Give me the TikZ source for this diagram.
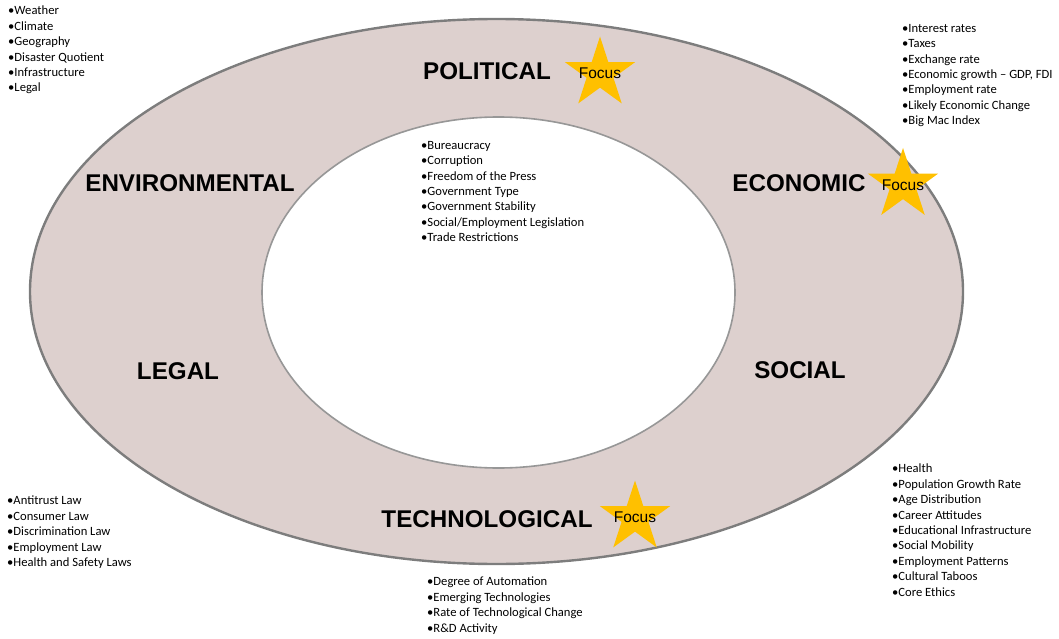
\documentclass[tikz,border=0pt]{standalone}
\usepackage{fontspec}
\setmainfont{Liberation Sans}
\newfontfamily\listfont{Carlito}
\usepackage{xcolor}
\usetikzlibrary{shapes.geometric}

\definecolor{ringfill}{RGB}{221,208,206}
\definecolor{ringedge}{RGB}{125,125,125}
\definecolor{stargold}{RGB}{255,192,0}

\begin{document}
\begin{tikzpicture}[
        x=1pt, y=-1pt,
        factor/.style={font=\fontsize{24.2}{27}\selectfont\bfseries, inner sep=0pt},
        bullets/.style={anchor=north west, align=left, inner sep=0pt,
            font=\listfont\fontsize{12.6}{15.4}\selectfont},
        focusstar/.style={star, star points=5, star point ratio=2.618,
            fill=stargold, minimum size=74pt, inner sep=0pt,
            label={[font=\fontsize{15.5}{17}\selectfont]center:Focus}}
    ]
    \useasboundingbox (0,0) rectangle (1059,639);
    % rings
    \draw[ringedge, line width=2.4pt, fill=ringfill] (496.5,291.5) ellipse [x radius=466.5, y radius=272.5];
    \draw[ringedge!80, line width=1.6pt, fill=white] (498.5,292.5) ellipse [x radius=236.5, y radius=175.5];
    % factors
    \node[factor] (political) at (487,71) {POLITICAL};
    \node[factor] (economic) at (799,183) {ECONOMIC};
    \node[factor] (environmental) at (190,183) {ENVIRONMENTAL};
    \node[factor] (legal) at (178,371) {LEGAL};
    \node[factor] (social) at (800,370) {SOCIAL};
    \node[factor] (technological) at (487,519) {TECHNOLOGICAL};
    % stars
    \node[focusstar] (polfocus) at (600,73.5) {};
    \node[focusstar] (ecofocus) at (903,185) {};
    \node[focusstar] (techfocus) at (635,517.5) {};
    % lists
    \node[bullets] (envlist) at (8,6) {\textbullet Weather\\\textbullet Climate\\\textbullet Geography\\\textbullet Disaster Quotient\\\textbullet Infrastructure\\\textbullet Legal};
    \node[bullets] (ecolist) at (902,24) {\textbullet Interest rates\\\textbullet Taxes\\\textbullet Exchange rate\\\textbullet Economic growth \textendash{} GDP, FDI\\\textbullet Employment rate\\\textbullet Likely Economic Change\\\textbullet Big Mac Index};
    \node[bullets] (pollist) at (421,141) {\textbullet Bureaucracy\\\textbullet Corruption\\\textbullet Freedom of the Press\\\textbullet Government Type\\\textbullet Government Stability\\\textbullet Social/Employment Legislation\\\textbullet Trade Restrictions};
    \node[bullets] (legallist) at (7,496) {\textbullet Antitrust Law\\\textbullet Consumer Law\\\textbullet Discrimination Law\\\textbullet Employment Law\\\textbullet Health and Safety Laws};
    \node[bullets] (soclist) at (892,464) {\textbullet Health\\\textbullet Population Growth Rate\\\textbullet Age Distribution\\\textbullet Career Attitudes\\\textbullet Educational Infrastructure\\\textbullet Social Mobility\\\textbullet Employment Patterns\\\textbullet Cultural Taboos\\\textbullet Core Ethics};
    \node[bullets] (techlist) at (427,577) {\textbullet Degree of Automation\\\textbullet Emerging Technologies\\\textbullet Rate of Technological Change\\\textbullet R\&D Activity};
\end{tikzpicture}
\end{document}
